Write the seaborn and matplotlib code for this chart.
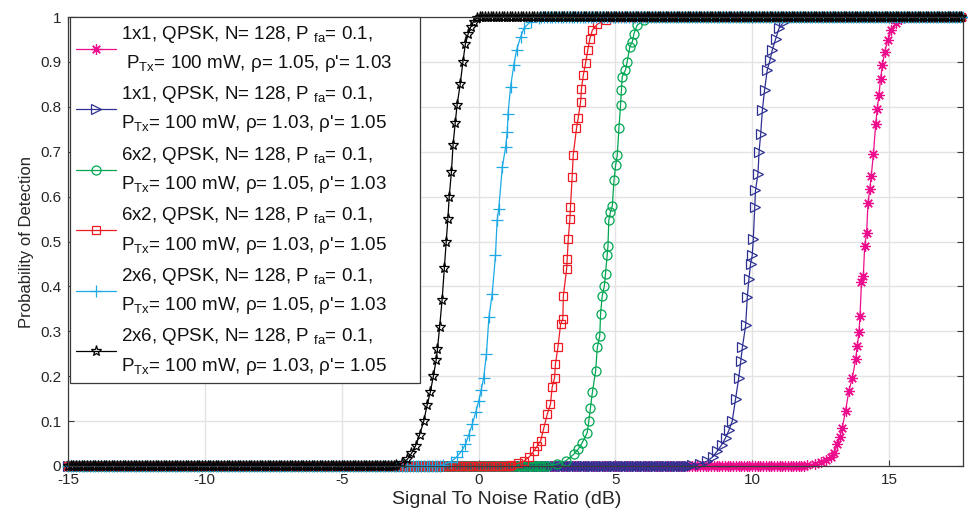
import numpy as np
import pandas as pd
import matplotlib
matplotlib.use("Agg")
import matplotlib.pyplot as plt
import seaborn as sns

# ---- data ----
x_mag = [12.0,12.3,12.5,12.7,12.87,13.0,13.11,13.2,13.29,13.41,13.53,13.66,13.78,13.84,13.9,13.94,13.99,14.06,14.11,14.18,14.23,14.3,14.35,14.43,14.51,14.57,14.63,14.69,14.76,14.84,14.96,15.08,15.24,15.45]
y_mag = [0.002,0.005,0.01,0.014,0.019,0.03,0.048,0.065,0.085,0.123,0.167,0.197,0.238,0.268,0.298,0.335,0.409,0.424,0.491,0.519,0.585,0.618,0.647,0.696,0.761,0.796,0.826,0.863,0.893,0.923,0.949,0.971,0.986,0.995]

x_blu = [7.8,8.1,8.36,8.55,8.72,8.88,9.03,9.15,9.27,9.39,9.51,9.58,9.64,9.76,9.82,9.88,9.94,10.0,10.04,10.09,10.12,10.21,10.25,10.31,10.37,10.45,10.55,10.65,10.73,10.86,10.98,11.16]
y_blu = [0.002,0.005,0.011,0.02,0.033,0.047,0.063,0.08,0.1,0.149,0.197,0.234,0.264,0.313,0.376,0.417,0.45,0.469,0.506,0.577,0.614,0.651,0.699,0.74,0.792,0.837,0.882,0.904,0.926,0.952,0.975,0.99]

x_grn = [2.5,2.87,3.2,3.48,3.65,3.79,3.97,4.03,4.09,4.16,4.28,4.34,4.43,4.46,4.52,4.6,4.64,4.7,4.73,4.76,4.82,4.89,4.95,5.01,5.07,5.13,5.19,5.22,5.25,5.37,5.43,5.53,5.62,5.68,5.8,6.04]
y_grn = [0.001,0.004,0.012,0.026,0.038,0.052,0.074,0.1,0.13,0.164,0.212,0.264,0.29,0.339,0.379,0.402,0.428,0.469,0.49,0.547,0.565,0.58,0.636,0.67,0.692,0.752,0.804,0.837,0.867,0.882,0.9,0.934,0.945,0.963,0.982,0.993]

x_red = [1.2,1.45,1.66,1.85,2.02,2.15,2.27,2.39,2.51,2.63,2.69,2.78,2.81,2.9,3.0,3.08,3.1,3.22,3.24,3.28,3.34,3.36,3.42,3.46,3.58,3.64,3.73,3.76,3.83,3.91,3.99,4.07,4.16,4.34,4.64]
y_red = [0.002,0.006,0.011,0.02,0.033,0.045,0.056,0.085,0.115,0.138,0.175,0.197,0.227,0.264,0.316,0.327,0.379,0.439,0.461,0.506,0.551,0.577,0.643,0.692,0.752,0.774,0.811,0.839,0.871,0.897,0.926,0.952,0.971,0.984,0.993]

x_cyn = [-1.3,-1.0,-0.8,-0.62,-0.48,-0.35,-0.23,-0.1,0.01,0.1,0.19,0.29,0.38,0.5,0.62,0.68,0.74,0.87,0.99,1.05,1.08,1.17,1.29,1.39,1.54,1.66,1.9,2.2]
y_cyn = [0.003,0.01,0.02,0.033,0.048,0.07,0.093,0.12,0.145,0.17,0.197,0.25,0.331,0.383,0.469,0.547,0.573,0.666,0.71,0.744,0.785,0.844,0.893,0.926,0.956,0.975,0.99,0.997]

x_blk = [-3.0,-2.8,-2.6,-2.45,-2.3,-2.15,-2.0,-1.88,-1.76,-1.65,-1.55,-1.5,-1.42,-1.33,-1.25,-1.18,-1.12,-1.07,-0.99,-0.93,-0.85,-0.78,-0.67,-0.57,-0.48,-0.38,-0.29,-0.18,-0.06]
y_blk = [0.002,0.006,0.015,0.028,0.045,0.07,0.1,0.135,0.165,0.2,0.235,0.26,0.31,0.37,0.44,0.5,0.55,0.6,0.655,0.715,0.765,0.805,0.85,0.9,0.94,0.962,0.977,0.99,0.997]

FLOOR = 0.0   # value of all curves before their rise
CEIL = 1.0    # value of all curves after saturation
SNR_MIN, SNR_MAX, SNR_STEP = -15.0, 17.7, 0.1

labels = [
    "1x1, QPSK, N= 128, P $_{fa}$= 0.1,\n P$_{Tx}$= 100 mW, ρ= 1.05, ρ'= 1.03",
    "1x1, QPSK, N= 128, P $_{fa}$= 0.1,\nP$_{Tx}$= 100 mW, ρ= 1.03, ρ'= 1.05",
    "6x2, QPSK, N= 128, P $_{fa}$= 0.1,\nP$_{Tx}$= 100 mW, ρ= 1.05, ρ'= 1.03",
    "6x2, QPSK, N= 128, P $_{fa}$= 0.1,\nP$_{Tx}$= 100 mW, ρ= 1.03, ρ'= 1.05",
    "2x6, QPSK, N= 128, P $_{fa}$= 0.1,\nP$_{Tx}$= 100 mW, ρ= 1.05, ρ'= 1.03",
    "2x6, QPSK, N= 128, P $_{fa}$= 0.1,\nP$_{Tx}$= 100 mW, ρ= 1.03, ρ'= 1.05",
]
series = [(x_mag, y_mag), (x_blu, y_blu), (x_grn, y_grn),
          (x_red, y_red), (x_cyn, y_cyn), (x_blk, y_blk)]
colors = ["#EC0C8C", "#2E3192", "#00A651", "#ED1C24", "#1CA9E6", "#000000"]
markers = [(8, 2, 0), ">", "o", "s", "+", "*"]
msizes = [7.5, 6.5, 6.5, 6, 8, 8]

sns.set_theme(style="white")
plt.rcParams["font.family"] = ["Liberation Sans", "DejaVu Sans"]
plt.rcParams["mathtext.fontset"] = "custom"
plt.rcParams["mathtext.rm"] = "Liberation Sans"
plt.rcParams["mathtext.it"] = "Liberation Sans"
plt.rcParams["mathtext.default"] = "regular"

fig = plt.figure(figsize=(9.68, 5.14), dpi=100)
ax = fig.add_axes([0.0702, 0.0934, 0.9246, 0.8735])

for (xs, ys), lab, c, m, ms in zip(series, labels, colors, markers, msizes):
    lo = np.arange(SNR_MIN, xs[0] - 0.05, SNR_STEP)
    hi = np.arange(xs[-1] + SNR_STEP, SNR_MAX + 0.01, SNR_STEP)
    xx = np.concatenate([lo, xs, hi])
    yy = np.concatenate([np.full(len(lo), FLOOR), ys, np.full(len(hi), CEIL)])
    df = pd.DataFrame({"snr": xx, "pd": yy})
    sns.lineplot(data=df, x="snr", y="pd", ax=ax, sort=False, estimator=None,
                 color=c, lw=0.9, marker=m, markersize=ms,
                 markerfacecolor="none", markeredgecolor=c,
                 markeredgewidth=0.9, label=lab, clip_on=False)

ax.set_xlim(SNR_MIN, SNR_MAX)
ax.set_ylim(0, 1)
ax.set_xticks([-15, -10, -5, 0, 5, 10, 15])
ax.set_xticklabels(["-15", "-10", "-5", "0", "5", "10", "15"])
ax.set_yticks(np.arange(0, 1.01, 0.1))
ax.set_yticklabels(["0", "0.1", "0.2", "0.3", "0.4", "0.5", "0.6", "0.7", "0.8", "0.9", "1"])
ax.grid(True, color="#e3e3e3", lw=1.0)
ax.set_axisbelow(True)
for s in ax.spines.values():
    s.set_color("#3a3a3a")
    s.set_linewidth(0.9)
ax.tick_params(direction="in", length=4, width=0.8, color="#3a3a3a",
               labelsize=11, labelcolor="#262626", top=True, right=True,
               left=True, bottom=True, pad=5)
ax.set_xlabel("Signal To Noise Ratio (dB)", fontsize=14, color="#262626", labelpad=3)
ax.xaxis.label.set_x(0.49)
ax.set_ylabel("Probability of Detection", fontsize=12, color="#262626", labelpad=4)

leg = ax.legend(loc="upper left", bbox_to_anchor=(0.0022, 0.0, 0.391, 1.0),
                mode="expand", borderaxespad=0,
                fontsize=13.5, frameon=True, fancybox=False, framealpha=1,
                edgecolor="#3a3a3a", handlelength=2.1, handletextpad=0.3,
                labelspacing=0.55, borderpad=0.35)
leg.get_frame().set_linewidth(0.9)
for t in leg.get_texts():
    t.set_linespacing(1.55)
    t.set_color("#111111")

fig.savefig("out.png", dpi=100)
